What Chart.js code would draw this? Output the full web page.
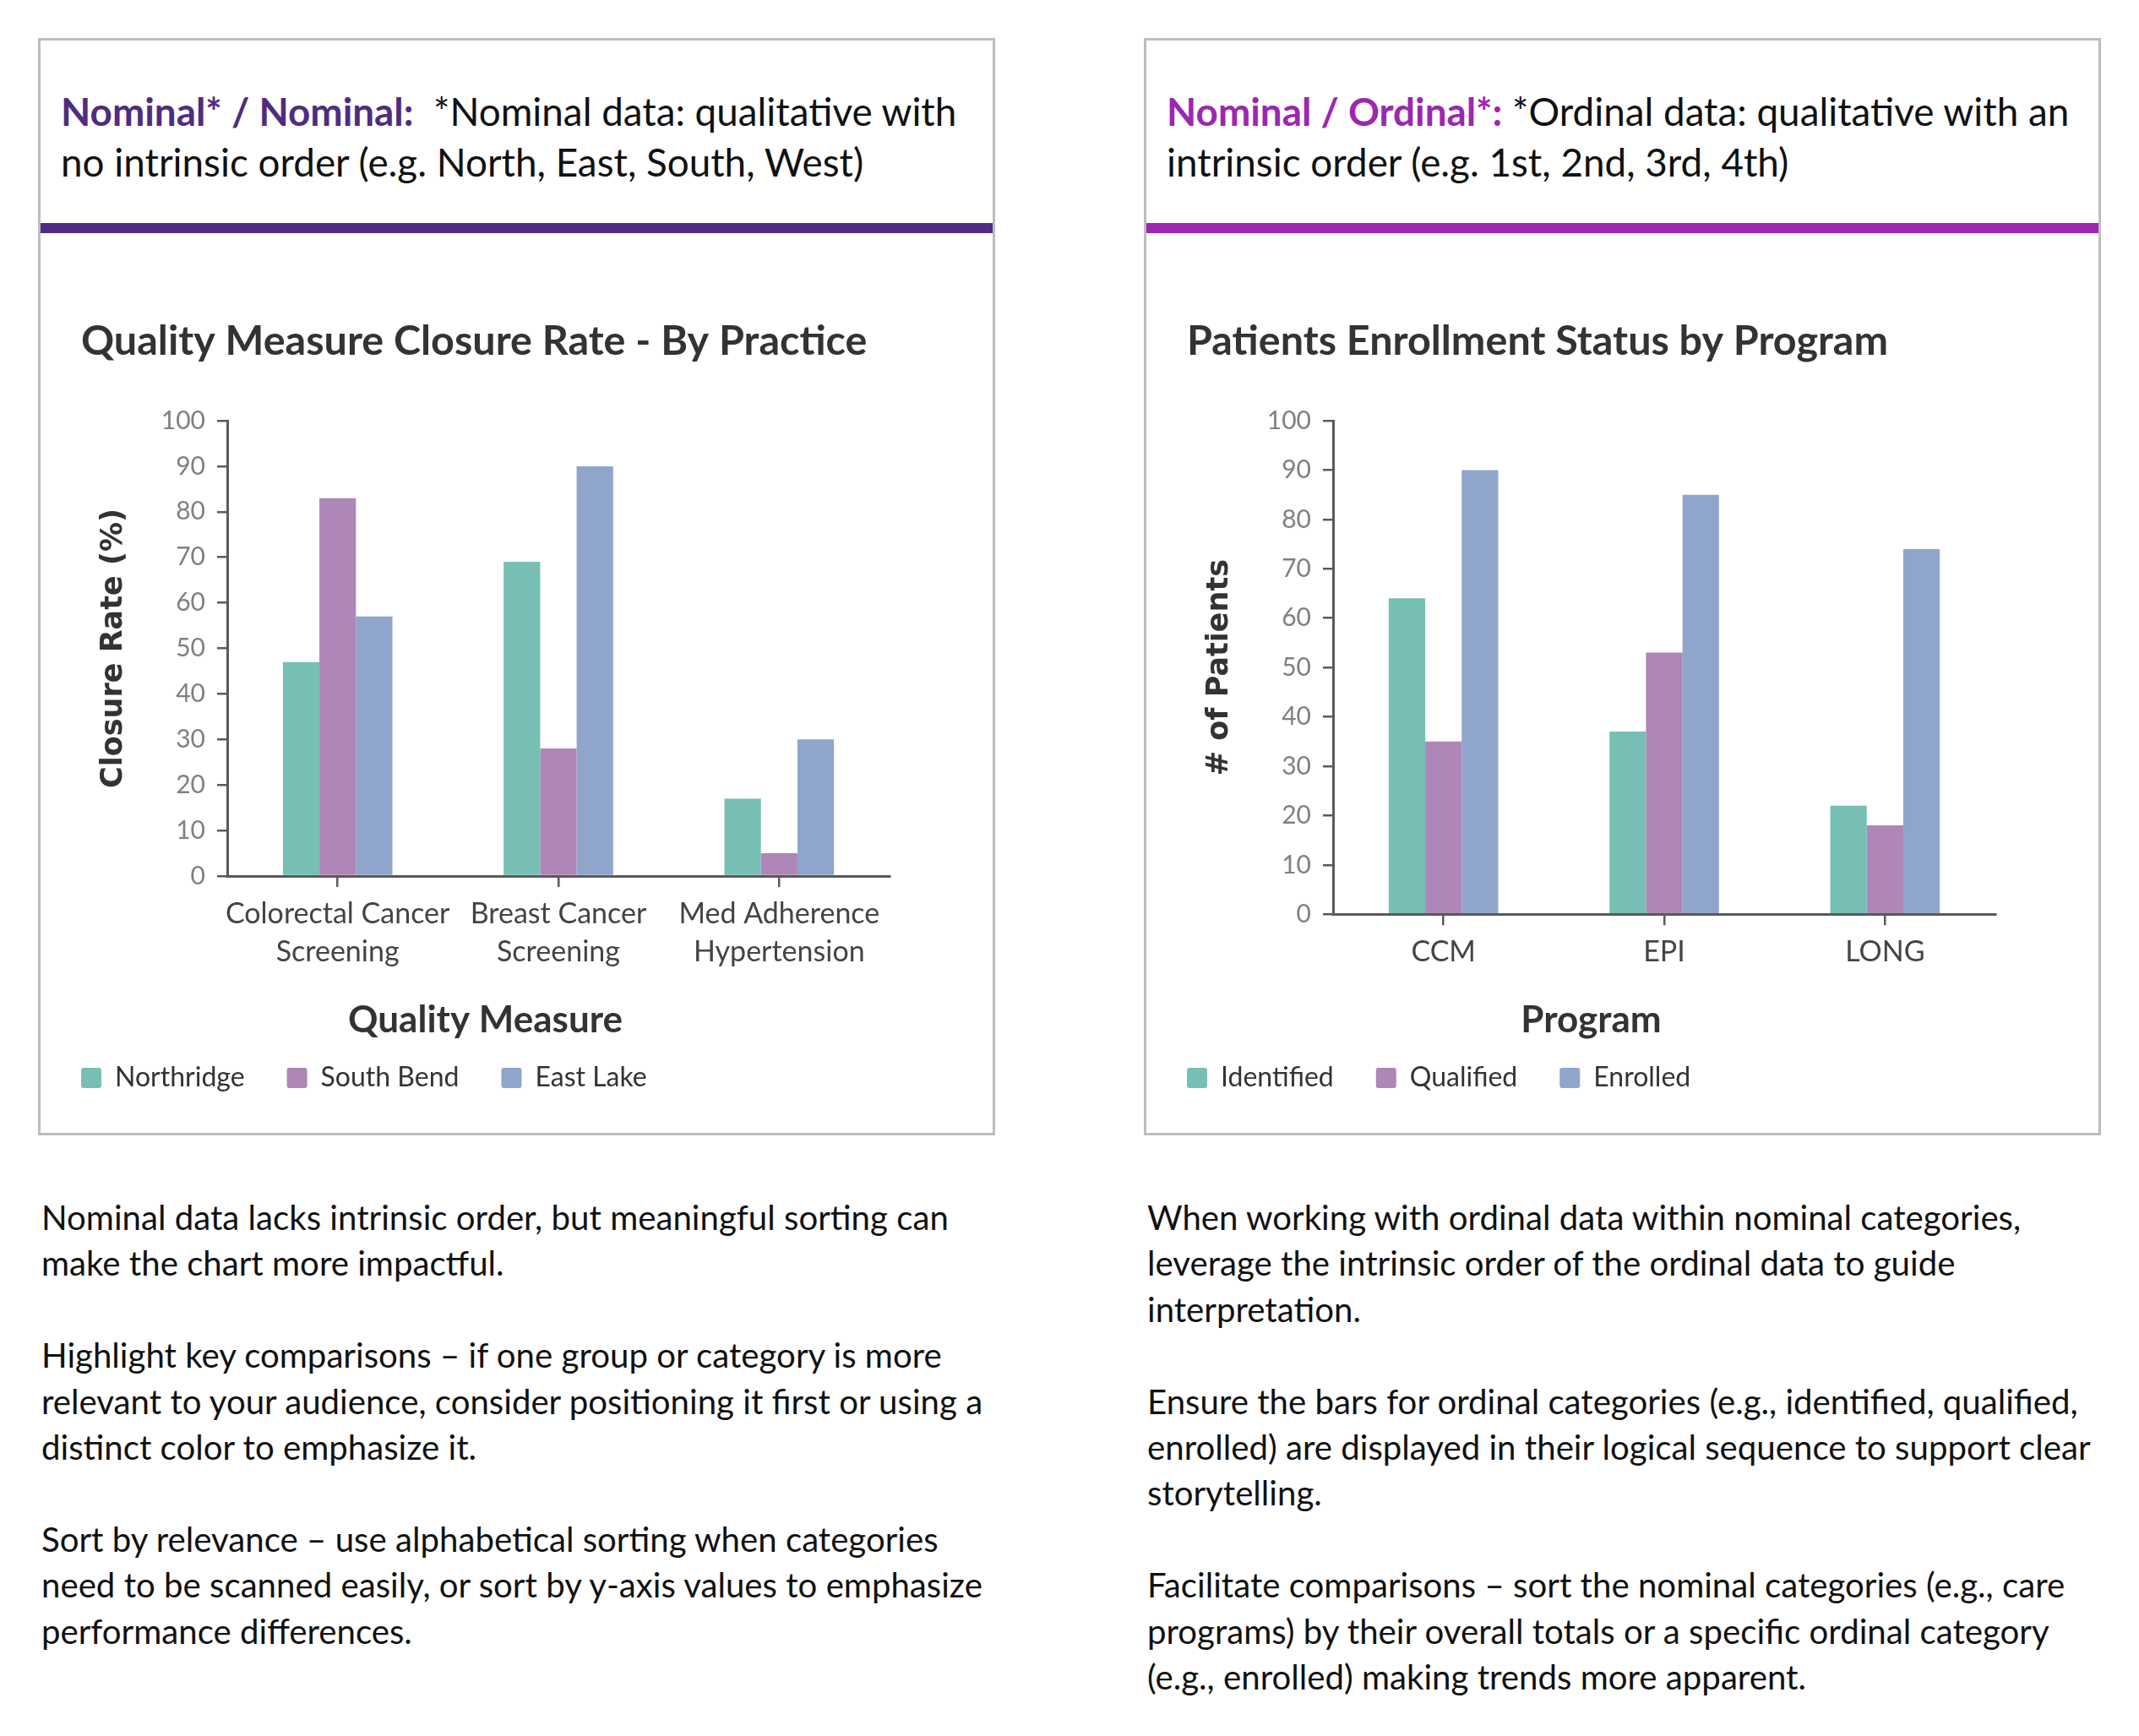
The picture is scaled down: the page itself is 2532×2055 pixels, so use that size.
<!DOCTYPE html>
<html>
<head>
<meta charset="utf-8">
<script src="https://cdn.jsdelivr.net/npm/chart.js@4.4.1/dist/chart.umd.min.js"></script>
<style>
  body { margin: 0; width: 2532px; height: 2055px; background: #fff; position: relative; font-family: Lato, "Noto Sans", sans-serif; }
  .card { position: absolute; top: 45px; width: 1133px; height: 1299px; border: 3px solid #bdbdbd; box-sizing: border-box; }
  .head { position: absolute; left: 24px; top: 53.5px; font-size: 45.8px; line-height: 60px; white-space: nowrap; color: #111; }
  .head b { font-weight: 700; }
  .rule { position: absolute; left: 0; right: 0; top: 216px; height: 12px; }
  canvas { position: absolute; top: 330px; }
  .notes { position: absolute; top: 1414px; font-size: 40.2px; line-height: 54.4px; white-space: nowrap; color: #111; }
  .notes p { margin: 0 0 54.4px 0; }
</style>
</head>
<body>

<div class="card" style="left:45px">
  <div class="head"><b style="color:#4f2c82">Nominal* / Nominal:</b>&nbsp; *Nominal data: qualitative with<br>no intrinsic order (e.g. North, East, South, West)</div>
  <div class="rule" style="background:#4f2c82"></div>
</div>
<div class="card" style="left:1354px">
  <div class="head"><b style="color:#9c27b0">Nominal / Ordinal*:</b> *Ordinal data: qualitative with an<br>intrinsic order (e.g. 1st, 2nd, 3rd, 4th)</div>
  <div class="rule" style="background:#9c27b0"></div>
</div>

<canvas id="practice" width="1128" height="996" style="left:48px"></canvas>
<canvas id="program" width="1128" height="996" style="left:1357px"></canvas>

<div class="notes" style="left:49px">
  <p>Nominal data lacks intrinsic order, but meaningful sorting can<br>make the chart more impactful.</p>
  <p>Highlight key comparisons – if one group or category is more<br>relevant to your audience, consider positioning it first or using a<br>distinct color to emphasize it.</p>
  <p>Sort by relevance – use alphabetical sorting when categories<br>need to be scanned easily, or sort by y-axis values to emphasize<br>performance differences.</p>
</div>
<div class="notes" style="left:1358px">
  <p>When working with ordinal data within nominal categories,<br>leverage the intrinsic order of the ordinal data to guide<br>interpretation.</p>
  <p>Ensure the bars for ordinal categories (e.g., identified, qualified,<br>enrolled) are displayed in their logical sequence to support clear<br>storytelling.</p>
  <p>Facilitate comparisons – sort the nominal categories (e.g., care<br>programs) by their overall totals or a specific ordinal category<br>(e.g., enrolled) making trends more apparent.</p>
</div>

<script>
// left chart: closure rate (%) per quality measure
const measures = [["Colorectal Cancer", "Screening"], ["Breast Cancer", "Screening"], ["Med Adherence", "Hypertension"]];
const practices = ["Northridge", "South Bend", "East Lake"];
const northridge = [47, 69, 17];
const southBend = [83, 28, 5];
const eastLake = [57, 90, 30];

// right chart: patients per program
const programs = ["CCM", "EPI", "LONG"];
const stages = ["Identified", "Qualified", "Enrolled"];
const identified = [64, 37, 22];
const qualified = [35, 53, 18];
const enrolled = [90, 85, 74];

const yMin = 0, yMax = 100, yStep = 10;
const colors = ["#77bfb4", "#af86b8", "#90a5cb"];
const axisColor = "#5a5a5a";

// legend box starts flush with the title, like the original layout
const legendNudge = {
    id: "legendNudge",
    afterLayout(chart, args, opts) {
        const lg = chart.legend;
        lg.left -= opts.x; lg.right -= opts.x;
        lg.top -= opts.y; lg.bottom -= opts.y;
    }
};

function drawChart(id, labels, names, series, title, xTitle, yTitle) {
    const ctx = document.getElementById(id).getContext("2d");
    return new Chart(ctx, {
        type: "bar",
        data: {
            labels: labels,
            datasets: series.map((values, i) => ({
                label: names[i],
                data: values,
                backgroundColor: colors[i],
                borderWidth: 0,
                categoryPercentage: 0.496,
                barPercentage: 1.0,
            })),
        },
        plugins: [legendNudge],
        options: {
            responsive: false,
            animation: false,
            events: [],
            layout: { padding: { left: 48, right: 123, top: 0, bottom: 0 } },
            plugins: {
                title: {
                    display: true,
                    text: title,
                    align: "start",
                    color: "#333",
                    font: { family: "Lato", size: 48.5, weight: "bold", lineHeight: 1.2 },
                    padding: { top: 45.4, bottom: 64.4 },
                },
                subtitle: {
                    display: true,
                    text: xTitle,
                    position: "bottom",
                    weight: 500,
                    color: "#333",
                    font: { family: "Lato", size: 44, weight: "bold", lineHeight: 1.2 },
                    padding: { top: 22.7, bottom: 0 },
                },
                legend: {
                    position: "bottom",
                    align: "start",
                    labels: {
                        boxWidth: 24,
                        boxHeight: 24,
                        useBorderRadius: true,
                        borderRadius: 3,
                        padding: 50,
                        color: "#333",
                        font: { family: "Lato", size: 32 },
                    },
                },
                legendNudge: { x: 50, y: 23.9 },
                tooltip: { enabled: false },
            },
            scales: {
                x: {
                    grid: { offset: false, drawOnChartArea: false, tickLength: 13, color: axisColor, lineWidth: 2.5 },
                    border: { display: true, color: axisColor, width: 3 },
                    ticks: {
                        color: "#444",
                        font: { family: "Lato", size: 34, lineHeight: 1.33 },
                        padding: 9,
                        maxRotation: 0,
                        autoSkip: false,
                    },
                },
                y: {
                    min: yMin,
                    max: yMax,
                    afterFit: (scale) => { scale.width = 173; },
                    grid: { drawOnChartArea: false, tickLength: 12, color: axisColor, lineWidth: 2.5 },
                    border: { display: true, color: axisColor, width: 3 },
                    ticks: {
                        stepSize: yStep,
                        color: "#808080",
                        font: { family: "Lato", size: 30 },
                        padding: 14,
                    },
                    title: {
                        display: true,
                        text: yTitle,
                        color: "#333",
                        font: { family: "DejaVu Sans", size: 35, weight: "bold", lineHeight: 1.2 },
                        padding: { top: 18, bottom: 0 },
                    },
                },
            },
        },
    });
}

drawChart("practice", measures, practices, [northridge, southBend, eastLake],
    "Quality Measure Closure Rate - By Practice", "Quality Measure", "Closure Rate (%)");
drawChart("program", programs, stages, [identified, qualified, enrolled],
    "Patients Enrollment Status by Program", "Program", "# of Patients");
</script>
</body>
</html>
